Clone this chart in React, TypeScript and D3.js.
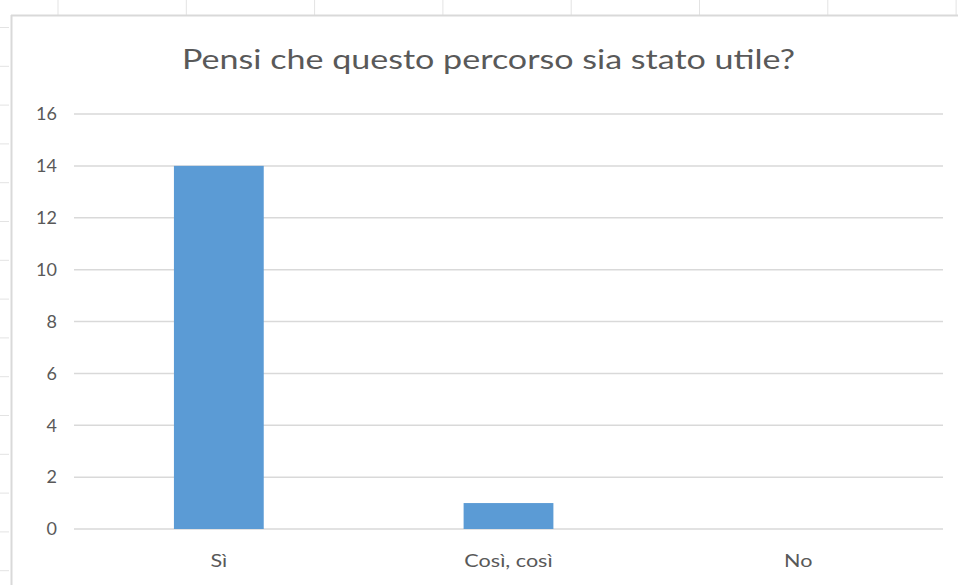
import React from "react";
import * as d3 from "d3";

const categories = ["Sì", "Così, così", "No"];
const values = [14, 1, 0];
const yTicks = [0, 2, 4, 6, 8, 10, 12, 14, 16];
const title = "Pensi che questo percorso sia stato utile?";

const W = 958;
const H = 585;
const FONT = "Lato, 'Open Sans', sans-serif";
const TEXT = "#595959";

export default function App() {
  const plot = { left: 74, right: 943, top: 114, bottom: 529 };
  const x = d3
    .scaleBand<string>()
    .domain(categories)
    .range([plot.left, plot.right])
    .paddingInner(0.69)
    .paddingOuter(0.345);
  const y = d3.scaleLinear().domain([0, 16]).range([plot.bottom, plot.top]);

  const colTicks = d3.range(8).map((i) => 58 + i * 128.3);
  const rowTicks = d3.range(15).map((i) => 27.5 + i * 38.8);

  return (
    <svg
      width={W}
      height={H}
      style={{ position: "absolute", left: 0, top: 0, background: "#fff" }}
      fontFamily={FONT}
    >
      {/* spreadsheet background ticks */}
      {colTicks.map((cx, i) => (
        <line key={"c" + i} x1={cx} x2={cx} y1={0} y2={15} stroke="#e3e3e3" strokeWidth={1} />
      ))}
      {rowTicks.map((ry, i) => (
        <line key={"r" + i} x1={0} x2={9} y1={ry} y2={ry} stroke="#e3e3e3" strokeWidth={1} />
      ))}
      {/* chart border */}
      <line x1={11} x2={W} y1={15.5} y2={15.5} stroke="#d9d9d9" strokeWidth={2} />
      <line x1={11.5} x2={11.5} y1={15} y2={H} stroke="#d9d9d9" strokeWidth={2} />

      <text
        x={488.5}
        y={69}
        textAnchor="middle"
        fontSize={27}
        fill={TEXT}
        textLength={613}
        lengthAdjust="spacingAndGlyphs"
      >
        {title}
      </text>

      {yTicks.map((t) => (
        <g key={t}>
          <line
            x1={plot.left}
            x2={plot.right}
            y1={y(t)}
            y2={y(t)}
            stroke="#d9d9d9"
            strokeWidth={1.5}
          />
          <text x={57} y={y(t)} dy="0.35em" textAnchor="end" fontSize={18} fill={TEXT}>
            {t}
          </text>
        </g>
      ))}

      {categories.map((c, i) => (
        <rect
          key={c}
          x={x(c)}
          y={y(values[i])}
          width={x.bandwidth()}
          height={y(0) - y(values[i])}
          fill="#5b9bd5"
        />
      ))}

      {categories.map((c) => (
        <text
          key={"l" + c}
          transform={`translate(${(x(c) ?? 0) + x.bandwidth() / 2},567) scale(1.2,1)`}
          textAnchor="middle"
          fontSize={18}
          fill={TEXT}
        >
          {c}
        </text>
      ))}
    </svg>
  );
}
